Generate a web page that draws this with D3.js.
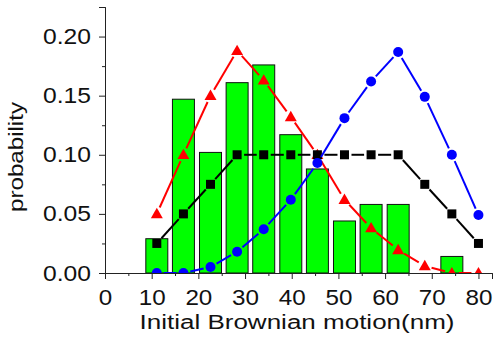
<!DOCTYPE html>
<html lang="en">
<head>
    <meta charset="UTF-8">
    <title>Initial Brownian motion</title>
    <style>
        body { margin: 0; background: #fff; }
        svg { display: block; font-family: "Liberation Sans", Arial, sans-serif; }
    </style>
</head>
<body>
    <svg width="494" height="338"></svg>
    <script src="https://d3js.org/d3.v7.min.js"></script>
    <script>
        // x positions (nm) shared by bars and the three curves
        const xs = [11.1, 16.8, 22.6, 28.3, 34.0, 39.8, 45.5, 51.3, 57.0, 62.8, 68.5, 74.3, 80.0]
        const bars = [0.029, 0.147, 0.102, 0.161, 0.176, 0.117, 0.088, 0.044, 0.058, 0.058, 0, 0.014, 0]
        const red = [0.05, 0.10, 0.15, 0.188, 0.163, 0.132, 0.10, 0.062, 0.038, 0.0195, 0.006, 0, 0]
        const black = [0.025, 0.05, 0.075, 0.10, 0.10, 0.10, 0.10, 0.10, 0.10, 0.10, 0.075, 0.05, 0.025]
        const blue = [0, 0, 0.005, 0.018, 0.037, 0.062, 0.093, 0.131, 0.162, 0.187, 0.149, 0.10, 0.049]
        const xTicks = [0, 10, 20, 30, 40, 50, 60, 70, 80]
        const yTicks = [0, 0.05, 0.10, 0.15, 0.20]

        const svg = d3.select('svg')
        const pLeft = 105, pRight = 492, pTop = 7, pBottom = 273

        const x = d3.scaleLinear().domain([0, 82.9]).range([pLeft, pRight])
        const y = d3.scaleLinear().domain([0, 0.225]).range([pBottom, pTop])

        svg.append('clipPath').attr('id', 'plot')
            .append('rect')
                .attr('x', pLeft).attr('y', pTop)
                .attr('width', pRight - pLeft).attr('height', pBottom - pTop)

        const g = svg.append('g').attr('clip-path', 'url(#plot)')

        // histogram bars
        const bw = 4.71
        g.selectAll('rect.bar')
            .data(xs.map((v, i) => [v, bars[i]]).filter(d => d[1] > 0))
            .enter().append('rect')
                .attr('class', 'bar')
                .attr('x', d => x(d[0] - bw / 2))
                .attr('width', d => x(d[0] + bw / 2) - x(d[0] - bw / 2))
                .attr('y', d => y(d[1]))
                .attr('height', d => y(0) - y(d[1]))
                .attr('fill', '#00ff00')
                .attr('stroke', '#111')
                .attr('stroke-width', 1)

        // line with small gaps around the symbols
        const gap = 7
        function drawSeries(vals, color, width) {
            const pts = xs.map((v, i) => [x(v), y(vals[i])])
            for (let i = 0; i < pts.length - 1; i++) {
                const [x1, y1] = pts[i], [x2, y2] = pts[i + 1]
                const len = Math.hypot(x2 - x1, y2 - y1)
                if (len <= 2 * gap) continue
                const ux = (x2 - x1) / len, uy = (y2 - y1) / len
                g.append('line')
                    .attr('x1', x1 + ux * gap).attr('y1', y1 + uy * gap)
                    .attr('x2', x2 - ux * gap).attr('y2', y2 - uy * gap)
                    .attr('stroke', color)
                    .attr('stroke-width', width)
            }
            return pts
        }

        const redPts = drawSeries(red, '#ff0000', 2)
        g.selectAll('path.tri')
            .data(redPts).enter().append('path')
                .attr('class', 'tri')
                .attr('d', d3.symbol(d3.symbolTriangle, 62))
                .attr('transform', d => `translate(${d[0]},${d[1] + 0.8})`)
                .attr('fill', '#ff0000')

        const blackPts = drawSeries(black, '#000', 2)
        g.selectAll('rect.sq')
            .data(blackPts).enter().append('rect')
                .attr('class', 'sq')
                .attr('x', d => d[0] - 4.5).attr('y', d => d[1] - 4.5)
                .attr('width', 9).attr('height', 9)
                .attr('fill', '#000')

        const bluePts = drawSeries(blue, '#0000ff', 2)
        g.selectAll('circle')
            .data(bluePts).enter().append('circle')
                .attr('cx', d => d[0]).attr('cy', d => d[1])
                .attr('r', 5)
                .attr('fill', '#0000ff')

        // axes
        function stretch(sel, k) {
            sel.each(function() {
                const w = this.getComputedTextLength()
                d3.select(this).attr('textLength', w * k).attr('lengthAdjust', 'spacingAndGlyphs')
            })
        }

        const xAxis = svg.append('g').attr('transform', `translate(0,${pBottom})`)
        xAxis.call(d3.axisBottom(x).tickValues(d3.range(5, 82, 10)).tickSize(3).tickFormat(''))
        xAxis.append('g').call(d3.axisBottom(x).tickValues(xTicks).tickSize(6).tickPadding(10).tickFormat(d3.format('d')))
        xAxis.selectAll('.domain').attr('stroke', '#222')
        xAxis.selectAll('line').attr('stroke', '#222')
        xAxis.selectAll('text').attr('font-size', 22).attr('fill', '#111').attr('font-family', null)
        stretch(xAxis.selectAll('text'), 1.1)

        const yAxis = svg.append('g').attr('transform', `translate(${pLeft},0)`)
        yAxis.call(d3.axisLeft(y).tickValues(d3.range(0.025, 0.23, 0.05)).tickSize(3).tickFormat(''))
        yAxis.append('g').call(d3.axisLeft(y).tickValues(yTicks).tickSize(6).tickPadding(8).tickFormat(d3.format('.2f')))
        yAxis.selectAll('.domain').attr('stroke', '#222')
        yAxis.selectAll('line').attr('stroke', '#222')
        yAxis.selectAll('text').attr('font-size', 22).attr('fill', '#111').attr('font-family', null)
        stretch(yAxis.selectAll('text'), 1.12)

        // axis titles
        svg.append('text')
            .attr('x', 297).attr('y', 329)
            .attr('text-anchor', 'middle')
            .attr('font-size', 20)
            .attr('fill', '#111')
            .attr('textLength', 315).attr('lengthAdjust', 'spacingAndGlyphs')
            .text('Initial Brownian motion(nm)')

        svg.append('text')
            .attr('transform', 'translate(23,157) rotate(-90)')
            .attr('text-anchor', 'middle')
            .attr('font-size', 20)
            .attr('fill', '#111')
            .attr('textLength', 110).attr('lengthAdjust', 'spacingAndGlyphs')
            .text('probability')
    </script>
</body>
</html>
